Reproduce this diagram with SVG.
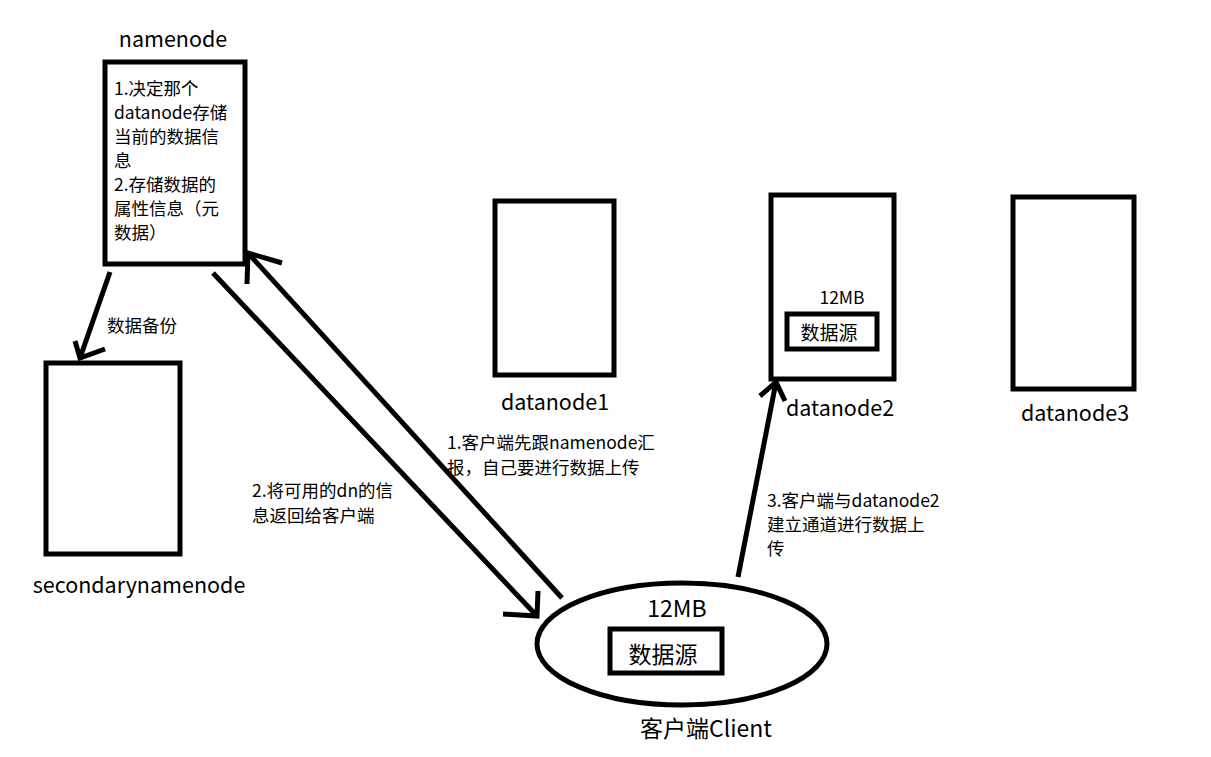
<svg xmlns="http://www.w3.org/2000/svg" width="1211" height="757" viewBox="0 0 1211 757">
<style>
.box{fill:#fff;stroke:#000;stroke-width:5}
.ln{fill:none;stroke:#000;stroke-width:5;stroke-linecap:butt}
.lbl{font-family:"Noto Sans CJK SC","Microsoft YaHei",sans-serif;font-size:21.5px;fill:#000}
.t{font-family:"Noto Sans CJK SC","Microsoft YaHei",sans-serif;font-size:17.5px;fill:#000}
.t2{font-family:"Noto Sans CJK SC","Microsoft YaHei",sans-serif;font-size:19px;fill:#000}
.big{font-family:"Noto Sans CJK SC","Microsoft YaHei",sans-serif;font-size:23px;fill:#000}
</style>
<rect width="1211" height="757" fill="#fff"/>
<g id="namenode">
<text class="lbl" x="173" y="47" text-anchor="middle">namenode</text>
<rect class="box" x="105" y="62" width="140" height="202"/>
<text class="t" x="114" y="95">1.决定那个</text>
<text class="t" x="114" y="119">datanode存储</text>
<text class="t" x="114" y="143">当前的数据信</text>
<text class="t" x="114" y="167">息</text>
<text class="t" x="114" y="191">2.存储数据的</text>
<text class="t" x="114" y="215">属性信息（元</text>
<text class="t" x="114" y="239">数据）</text>
</g>
<g id="secondarynamenode">
<rect class="box" x="46" y="363" width="134" height="191"/>
<text class="lbl" x="139" y="593" text-anchor="middle">secondarynamenode</text>
</g>
<g id="datanode1">
<rect class="box" x="495" y="201" width="119" height="174"/>
<text class="lbl" x="555" y="410" text-anchor="middle">datanode1</text>
</g>
<g id="datanode2">
<rect class="box" x="771" y="195" width="123" height="184"/>
<text class="t" x="842" y="304" text-anchor="middle">12MB</text>
<rect class="box" x="787" y="314" width="90" height="35"/>
<text class="t2" x="829" y="340" text-anchor="middle">数据源</text>
<text class="lbl" x="840" y="416" text-anchor="middle">datanode2</text>
</g>
<g id="datanode3">
<rect class="box" x="1013" y="197" width="121" height="192"/>
<text class="lbl" x="1075" y="421" text-anchor="middle">datanode3</text>
</g>
<g id="client">
<ellipse class="box" cx="682" cy="644" rx="145" ry="61"/>
<text class="big" x="677" y="617" text-anchor="middle">12MB</text>
<rect class="box" x="610" y="629" width="112" height="44"/>
<text class="big" x="663" y="663" text-anchor="middle">数据源</text>
<text class="big" x="706" y="737" text-anchor="middle">客户端Client</text>
</g>
<g id="connectors">
<polyline class="ln" points="110,272 80,358"/>
<polyline class="ln" points="75,341 80,358 105,349"/>
<polyline class="ln" points="562,598 248,253"/>
<polyline class="ln" points="247,284 248,253 282,263"/>
<polyline class="ln" points="213,273 537,616"/>
<polyline class="ln" points="538,591 537,616 503,614"/>
<polyline class="ln" points="738,577 776,382"/>
<polyline class="ln" points="760,396 776,382 785,401"/>
<text class="t" x="107" y="332">数据备份</text>
<text class="t" x="447" y="449">1.客户端先跟namenode汇</text>
<text class="t" x="447" y="474">报，自己要进行数据上传</text>
<text class="t" x="252" y="497">2.将可用的dn的信</text>
<text class="t" x="252" y="522">息返回给客户端</text>
<text class="t" x="767" y="507">3.客户端与datanode2</text>
<text class="t" x="767" y="531">建立通道进行数据上</text>
<text class="t" x="767" y="555">传</text>
</g>
</svg>
